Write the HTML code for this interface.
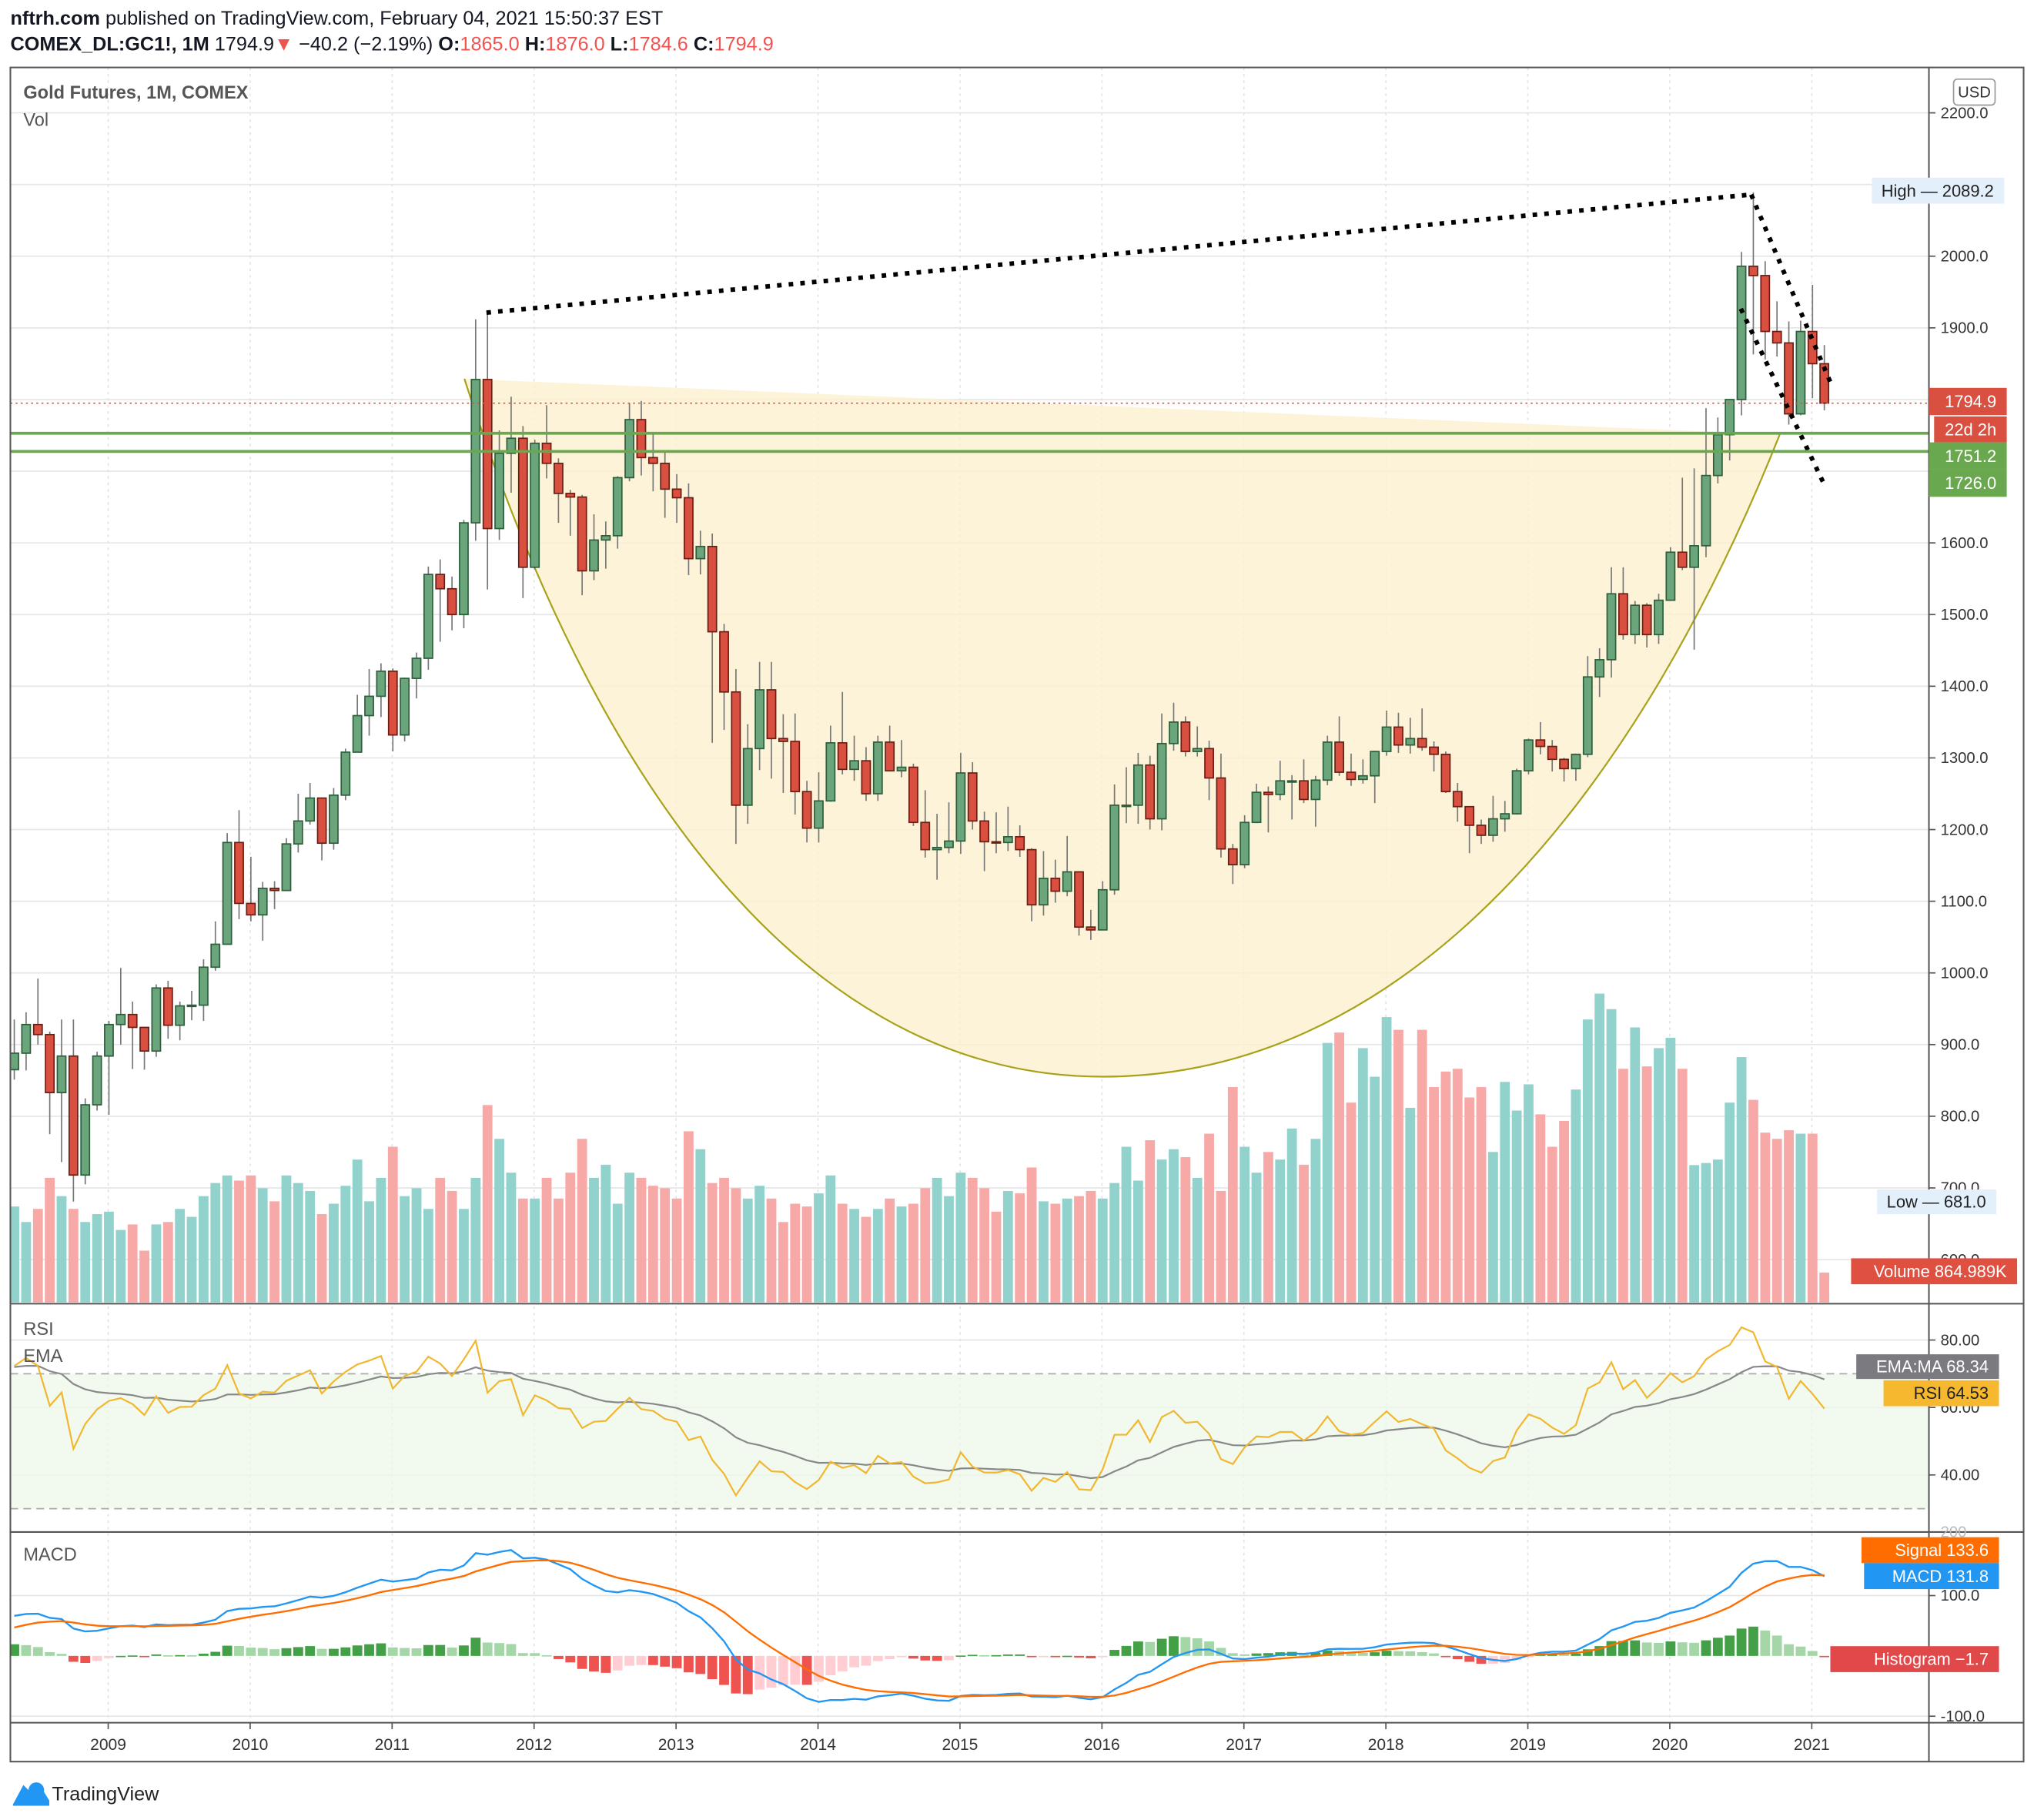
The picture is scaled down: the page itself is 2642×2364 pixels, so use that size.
<!DOCTYPE html>
<html><head><meta charset="utf-8"><style>
html,body{margin:0;padding:0;background:#fff;}
svg{display:block;font-family:"Liberation Sans",sans-serif;}
</style></head><body>
<svg id="c" width="2642" height="2364" viewBox="0 0 1568 1403" preserveAspectRatio="none" xmlns="http://www.w3.org/2000/svg">
<defs>
<clipPath id="cpP"><rect x="8" y="52" width="1479" height="953"/></clipPath>
<clipPath id="cpR"><rect x="8" y="1006" width="1479" height="175"/></clipPath>
<clipPath id="cpM"><rect x="8" y="1182" width="1479" height="146"/></clipPath>
</defs>
<rect x="0" y="0" width="1568" height="1403" fill="#fff"/>
<text x="8" y="19" font-size="15" fill="#131722"><tspan font-weight="bold">nftrh.com</tspan> published on TradingView.com, February 04, 2021 15:50:37 EST</text>
<text x="8" y="39" font-size="15" fill="#131722"><tspan font-weight="bold">COMEX_DL:GC1!, 1M</tspan> 1794.9<tspan fill="#ef5350">▼</tspan> −40.2 (−2.19%) <tspan font-weight="bold">O:</tspan><tspan fill="#ef5350">1865.0</tspan> <tspan font-weight="bold">H:</tspan><tspan fill="#ef5350">1876.0</tspan> <tspan font-weight="bold">L:</tspan><tspan fill="#ef5350">1784.6</tspan> <tspan font-weight="bold">C:</tspan><tspan fill="#ef5350">1794.9</tspan></text>
<g id="grid"></g>
<g id="cup" clip-path="url(#cpP)"></g>
<g id="vol" clip-path="url(#cpP)"></g>
<g id="candles" clip-path="url(#cpP)"></g>
<g id="rsi" clip-path="url(#cpR)"></g>
<g id="macd" clip-path="url(#cpM)"></g>
<g id="frame"></g>
<g id="labels"></g>
</svg>
<script>
// ---- data ----
const startYear = 2008, startMonth = 4; // May 2008
const warmClose = [651,665,663,678,659,650,666,673,743,789,783,834,923,972,917,865];
const close = [888,928,914,833,884,718,816,884,
928,942,924,891,979,927,954,955,1008,1040,1182,1097,
1081,1118,1115,1180,1212,1244,1181,1248,1308,1359,1386,1421,
1332,1411,1439,1556,1536,1500,1628,1828,1620,1725,1746,1566,
1739,1711,1669,1664,1561,1604,1610,1691,1772,1719,1711,1675,
1663,1578,1595,1476,1392,1234,1313,1395,1327,1323,1253,1202,
1240,1321,1284,1296,1250,1322,1282,1287,1210,1172,1175,1184,
1279,1212,1183,1182,1190,1172,1095,1132,1114,1141,1064,1060,
1116,1234,1234,1290,1215,1320,1350,1309,1313,1272,1173,1151,
1210,1252,1249,1268,1268,1242,1269,1322,1280,1270,1275,1309,
1343,1318,1327,1315,1305,1253,1232,1206,1192,1215,1222,1282,
1325,1316,1298,1285,1305,1413,1437,1529,1472,1513,1472,1520,
1587,1566,1596,1694,1751,1800,1986,1973,1895,1879,1780,1895,
1850,1795];
const high = [935,945,992,918,935,935,825,890,
933,1007,960,916,984,989,960,975,1019,1072,1195,1227,
1162,1127,1128,1188,1250,1265,1212,1258,1313,1388,1424,1432,
1425,1412,1447,1567,1577,1553,1632,1912,1923,1757,1804,1763,
1744,1792,1718,1674,1667,1640,1630,1693,1795,1798,1754,1726,
1696,1683,1617,1613,1487,1424,1347,1434,1434,1361,1362,1268,
1280,1345,1392,1331,1315,1331,1345,1325,1292,1255,1222,1238,
1307,1294,1225,1224,1232,1206,1174,1170,1158,1191,1142,1088,
1128,1263,1287,1307,1303,1362,1377,1358,1344,1324,1306,1180,
1220,1264,1260,1296,1276,1298,1275,1331,1358,1306,1298,1310,
1366,1363,1356,1369,1323,1309,1265,1219,1214,1247,1240,1285,
1327,1350,1325,1300,1306,1442,1453,1566,1566,1519,1516,1529,
1594,1691,1704,1788,1775,1800,2006,2089,1993,1937,1909,1910,
1960,1876];
const low = [851,864,900,775,736,681,705,808,
802,900,866,865,883,908,906,934,933,1003,1045,1075,
1072,1045,1089,1121,1168,1207,1157,1172,1241,1315,1331,1357,
1309,1323,1383,1423,1462,1478,1481,1603,1535,1604,1670,1523,
1563,1690,1628,1610,1527,1548,1564,1592,1686,1694,1672,1635,
1628,1555,1556,1321,1339,1180,1208,1283,1271,1251,1221,1182,
1182,1239,1277,1268,1240,1240,1281,1273,1205,1161,1130,1167,
1166,1200,1142,1167,1170,1162,1072,1080,1098,1107,1052,1046,
1061,1109,1209,1208,1200,1199,1310,1302,1302,1241,1161,1124,
1146,1209,1196,1241,1214,1237,1204,1262,1275,1261,1264,1237,
1303,1307,1306,1310,1281,1251,1211,1167,1180,1183,1197,1221,
1277,1305,1281,1267,1268,1301,1385,1412,1465,1459,1454,1459,
1519,1562,1451,1580,1683,1715,1778,1863,1856,1860,1765,1778,
1802,1785];
// volume in thousands of contracts
const volume = [2780,2330,2710,3610,3080,2710,2330,2560,
2630,2100,2260,1500,2260,2330,2710,2480,3080,3460,3680,3530,
3680,3310,2930,3680,3460,3230,2560,2860,3380,4140,2930,3610,
4510,3080,3310,2710,3610,3230,2710,3610,5720,4740,3760,3010,
3010,3610,3010,3760,4740,3610,3990,2860,3760,3610,3380,3310,
3010,4960,4440,3460,3610,3310,3010,3380,3010,2330,2860,2780,
3160,3680,2860,2710,2480,2710,3010,2780,2860,3310,3610,3080,
3760,3610,3310,2630,3230,3160,3910,2930,2860,3010,3080,3230,
3010,3460,4510,3530,4700,4140,4440,4210,3610,4890,3230,6240,
4510,3760,4360,4140,5040,3990,4740,7520,7820,5790,7370,6540,
8270,7900,5640,7900,6240,6690,6770,5940,6240,4360,6390,5560,
6320,5450,4510,5260,6170,8200,8950,8500,6770,7970,6840,7370,
7670,6770,3980,4040,4140,5790,7110,5870,4920,4740,4990,4890,
4890,865];
const priceTicks = [2200,2000,1900,1600,1500,1400,1300,1200,1100,1000,900,800,700,600];
const yearLabels = ["2009","2010","2011","2012","2013","2014","2015","2016","2017","2018","2019","2020","2021"];
const rsiTicks = [80,60,40];
const macdTicks = [100,-100];

// ---- scales ----
const X0 = 11, DX = 9.12;
const xi = i => X0 + i*DX;
const py = p => 750 - (p-1000)*0.5525;
const vy = v => 1004 - v*0.0266;
const ry = r => 1137 - (r-40)*2.6;
const my = m => 1276.5 - m*0.465;
const NS = "http://www.w3.org/2000/svg";
function mk(tag, attrs, parent){const e=document.createElementNS(NS,tag);for(const k in attrs)e.setAttribute(k,attrs[k]);parent.appendChild(e);return e;}
const G = id => document.getElementById(id);
const yearX = yl => xi((+yl - startYear)*12 - startMonth) - 0.5*DX + 4;

// ---- grid ----
const grid = G('grid');
priceTicks.concat([2100,1800,1700]).forEach(t=>{
  const l=mk('line',{x1:8,x2:1487,y1:py(t),y2:py(t),stroke:'#e6e6e6','stroke-width':1},grid);
  
  
});
[1033,1085,1137].forEach(y=>{mk('line',{x1:8,x2:1487,y1:y,y2:y,stroke:'#e6e6e6'},grid);});
[1230,1323].forEach(y=>{mk('line',{x1:8,x2:1487,y1:y,y2:y,stroke:'#e6e6e6'},grid);});
yearLabels.forEach(yl=>{
  const x = yearX(yl);
  mk('line',{x1:x,x2:x,y1:52,y2:1328,stroke:'#e3e3e3','stroke-dasharray':'2,3'},grid);
});
const band = mk('rect',{x:8,y:ry(70),width:1479,height:ry(30)-ry(70),fill:'#edf7ea','fill-opacity':0.75},grid);


[70,30].forEach(v=>mk('line',{x1:8,x2:1487,y1:ry(v),y2:ry(v),stroke:'#aaa','stroke-dasharray':'6,4'},grid));

// ---- cup pattern ----
const cup = G('cup');
const cupFill = mk('path',{d:'M358,292 C470,640 640,830 850,830 C1070,830 1250,640 1372,335 L358,292 Z',fill:'#fdf0d0','fill-opacity':0.8,stroke:'none'},cup);


const cupLine = mk('path',{d:'M358,292 C470,640 640,830 850,830 C1070,830 1250,640 1372,335',fill:'none',stroke:'#a8a21a','stroke-width':1.3},cup);



// ---- volume ----
const vg = G('vol');
close.forEach((c,i)=>{
  const o = i===0 ? warmClose[warmClose.length-1] : close[i-1];
  const up = c>=o;
  const r = mk('rect',{x:xi(i)-3.8,y:vy(volume[i]),width:7.6,height:1004-vy(volume[i]),fill:up?'#92d2cc':'#f7a9a7'},vg);
  
  
});

// ---- candles ----
const cg = G('candles');
close.forEach((c,i)=>{
  const o = i===0 ? warmClose[warmClose.length-1] : close[i-1];
  const up = c>=o;
  const w = mk('line',{x1:xi(i),x2:xi(i),y1:py(high[i]),y2:py(low[i]),stroke:'#777','stroke-width':1},cg);
  
  
  const top = py(Math.max(o,c)), bot = py(Math.min(o,c));
  const b = mk('rect',{x:xi(i)-3.3,y:top,width:6.6,height:Math.max(1,bot-top),fill:up?'#6aa57c':'#d95040',stroke:up?'#2d5e3c':'#6b1d14','stroke-width':1},cg);
  
  
});

// drawings
const dg = G('candles');
[[375,241,1350,150],[1350,150,1412,297],[1342,238,1407,375]].forEach(s=>{
  const l=mk('line',{x1:s[0],y1:s[1],x2:s[2],y2:s[3],stroke:'#000','stroke-width':3.5,'stroke-dasharray':'3.5,5.5'},dg);
  
  
});
[334,348].forEach(y=>{
  const l=mk('line',{x1:8,x2:1487,y1:y,y2:y,stroke:'#6aa84f','stroke-width':2.2},dg);
  
  
});
mk('line',{x1:8,x2:1487,y1:py(1794.9),y2:py(1794.9),stroke:'#e05040','stroke-width':1,'stroke-dasharray':'1.5,2.5'},dg);

// ---- RSI ----
const all = warmClose.concat(close);
const N = warmClose.length;
let ag=0, al=0; const rsiAll=[];
for(let i=1;i<all.length;i++){
  const d=all[i]-all[i-1], g=Math.max(d,0), l=Math.max(-d,0);
  if(i<=14){ag+=g/14; al+=l/14;} else {ag=(ag*13+g)/14; al=(al*13+l)/14;}
  rsiAll[i]= al===0?100:100-100/(1+ag/al);
}
const rsi = close.map((c,i)=>rsiAll[i+N]);
const rsiEma=[]; let e=rsi[0]; const ka=2/(14+1);
rsi.forEach((v,i)=>{e = i===0? 72 : e + ka*(v-e); rsiEma.push(e);});
const rg = G('rsi');
const pl = (arr,fy)=>arr.map((v,i)=>xi(i).toFixed(1)+','+fy(v).toFixed(1)).join(' ');
const re = mk('polyline',{points:pl(rsiEma,ry),fill:'none',stroke:'#888','stroke-width':1.3},rg);


const rl = mk('polyline',{points:pl(rsi,ry),fill:'none',stroke:'#f0b72f','stroke-width':1.3},rg);



// ---- MACD ----
function ema(arr,n){const k=2/(n+1);let v=arr[0];return arr.map((x,i)=>{v=i===0?x:v+k*(x-v);return v;});}
const e12=ema(all,12), e26=ema(all,26);
const macdAll=all.map((v,i)=>e12[i]-e26[i]);
const sigAll=ema(macdAll,9);
const macd=close.map((c,i)=>macdAll[i+N]);
const sig=close.map((c,i)=>sigAll[i+N]);
const mg=G('macd');
macd.forEach((m,i)=>{
  const h=m-sig[i], hp=i>0?macd[i-1]-sig[i-1]:h;
  const col = h>=0 ? (h>=hp?'#43a047':'#a5d6a7') : (h<=hp?'#ef5350':'#ffcdd2');
  const y0=my(0), y1=my(h);
  const r=mk('rect',{x:xi(i)-3.8,y:Math.min(y0,y1),width:7.6,height:Math.max(1,Math.abs(y1-y0)),fill:col},mg);
  
  
});
const ml=mk('polyline',{points:pl(macd,my),fill:'none',stroke:'#2196f3','stroke-width':1.4},mg);


const sl=mk('polyline',{points:pl(sig,my),fill:'none',stroke:'#ff6d00','stroke-width':1.4},mg);



// ---- frame ----
const fr=G('frame');
mk('rect',{x:8,y:52,width:1552,height:1306,fill:'none',stroke:'#555','stroke-width':1.2},fr);
mk('line',{x1:1487,x2:1487,y1:52,y2:1358,stroke:'#555','stroke-width':1.2},fr);
mk('line',{x1:8,x2:1560,y1:1005,y2:1005,stroke:'#555','stroke-width':1.2},fr);
mk('line',{x1:8,x2:1560,y1:1181,y2:1181,stroke:'#555','stroke-width':1.2},fr);
mk('line',{x1:8,x2:1560,y1:1328,y2:1328,stroke:'#555','stroke-width':1.2},fr);

// ---- labels ----
const lg=G('labels');
function txt(x,y,s,opt,name){const t=mk('text',Object.assign({x:x,y:y,'font-size':12,fill:'#333'},opt||{}),lg);t.textContent=s;return t;}
txt(18,76,'Gold Futures, 1M, COMEX',{'font-size':14,'font-weight':'bold',fill:'#555'},'chart-title');
txt(18,97,'Vol',{'font-size':14,fill:'#555'},'volume-title');
txt(18,1029,'RSI',{'font-size':14,fill:'#555'},'rsi-title');
txt(18,1050,'EMA',{'font-size':14,fill:'#555'},'ema-title');
txt(18,1203,'MACD',{'font-size':14,fill:'#555'},'macd-title');
priceTicks.forEach(t=>{
  mk('line',{x1:1487,x2:1492,y1:py(t),y2:py(t),stroke:'#555'},lg);
  txt(1496,py(t)+4,t.toFixed(1),{},'price-tick-label');
});
rsiTicks.forEach(t=>{mk('line',{x1:1487,x2:1492,y1:ry(t),y2:ry(t),stroke:'#555'},lg);txt(1496,ry(t)+4,t.toFixed(2),{},'rsi-tick-label');});
txt(1496,1185,'200',{fill:'#bbb'},'macd-tick-label');
macdTicks.forEach(t=>{mk('line',{x1:1487,x2:1492,y1:my(t),y2:my(t),stroke:'#555'},lg);txt(1496,my(t)+4,t.toFixed(1),{},'macd-tick-label');});
yearLabels.forEach(yl=>{
  const x=yearX(yl);
  mk('line',{x1:x,x2:x,y1:1328,y2:1333,stroke:'#555'},lg);
  txt(x,1349,yl,{'text-anchor':'middle','font-size':12.5},'year-label');
});
function box(x,y,w,h,fill,s,tc,name){
  const r=mk('rect',{x:x,y:y,width:w,height:h,fill:fill},lg);
  
  return txt(x+w-8,y+h/2+4.5,s,{fill:tc,'font-size':13,'text-anchor':'end'},name);
}
const ub=mk('rect',{x:1506,y:61,width:32,height:20,rx:3,fill:'#fff',stroke:'#999'},lg);

txt(1522,75,'USD',{'text-anchor':'middle'},'currency-label');
box(1443,137,102,20,'#e3effa','High  —  2089.2','#222','high-label');
box(1487,299,60,21,'#d95040','1794.9','#fff','last-price-label');
box(1491,321,56,20,'#d95040','22d 2h','#fff','countdown-label');
box(1487,341,60,21,'#6aa84f','1751.2','#fff','support-1751-label');
box(1487,362,60,21,'#6aa84f','1726.0','#fff','support-1726-label');
box(1447,917,92,19,'#e3effa','Low  —  681.0','#222','low-label');
box(1427,970,128,20,'#e05040','Volume  864.989K','#fff','volume-label');
box(1431,1044,110,19,'#7a7a80','EMA:MA  68.34','#fff','ema-value-label');
box(1452,1064,89,20,'#f5b82e','RSI  64.53','#222','rsi-value-label');
box(1435,1185,106,20,'#ff6d00','Signal  133.6','#fff','signal-value-label');
box(1437,1205,104,20,'#2196f3','MACD  131.8','#fff','macd-value-label');
box(1411,1269,130,20,'#e0484a','Histogram  −1.7','#fff','histogram-value-label');
const lo=mk('g',{},lg);


mk('path',{d:'M10,1391 L18,1376 L24,1382 L30,1375 L38,1388 L38,1392 L10,1392 Z',fill:'#2196f3'},lo);
mk('circle',{cx:28,cy:1380,r:6,fill:'#2196f3'},lo);
const lt=mk('text',{x:40,y:1388,'font-size':15,fill:'#222'},lo);lt.textContent='TradingView';
</script>
</body></html>
